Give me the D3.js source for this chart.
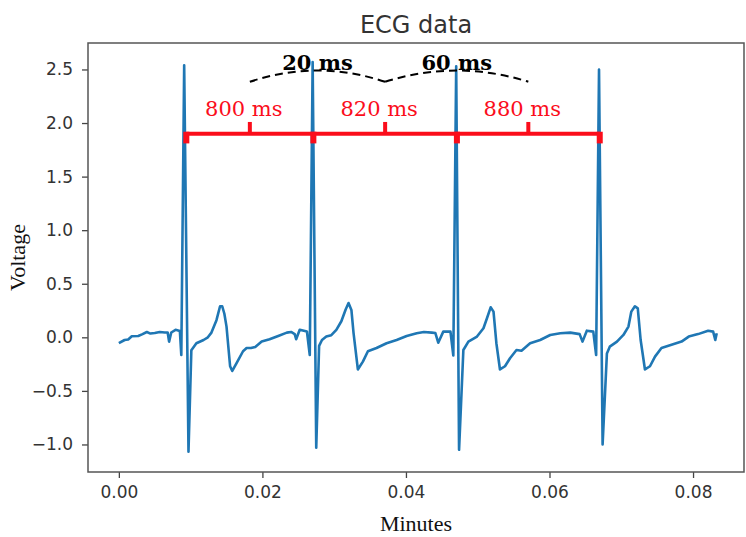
<!DOCTYPE html>
<html>
<head>
<meta charset="utf-8">
<script src="https://cdn.jsdelivr.net/npm/d3@7"></script>
<style>
  body { margin: 0; background: #fff; }
</style>
</head>
<body>
<div id="chart"></div>
<script>
// ECG trace: time (minutes) and voltage
const minutes = [
  0.0000, 0.0008, 0.0013, 0.0018, 0.0027, 0.0033, 0.0039, 0.0044, 0.0050, 0.0057,
  0.0064, 0.0068, 0.0070, 0.0073, 0.0079, 0.0085, 0.0087, 0.0091, 0.0097, 0.0101,
  0.0108, 0.0118, 0.0124, 0.0129, 0.0136, 0.0141, 0.0144, 0.0147, 0.0150, 0.0155,
  0.0158, 0.0164, 0.0173, 0.0178, 0.0184, 0.0190, 0.0199, 0.0210, 0.0222, 0.0234,
  0.0240, 0.0245, 0.0247, 0.0252, 0.0262, 0.0266, 0.0270, 0.0275, 0.0279, 0.0283,
  0.0289, 0.0296, 0.0303, 0.0310, 0.0316, 0.0320, 0.0324, 0.0327, 0.0333, 0.0340,
  0.0347, 0.0359, 0.0373, 0.0387, 0.0401, 0.0415, 0.0425, 0.0436, 0.0441, 0.0445,
  0.0452, 0.0462, 0.0466, 0.0470, 0.0474, 0.0480, 0.0487, 0.0499, 0.0508, 0.0513,
  0.0518, 0.0522, 0.0526, 0.0531, 0.0538, 0.0545, 0.0554, 0.0561, 0.0573, 0.0587,
  0.0601, 0.0615, 0.0629, 0.0642, 0.0646, 0.0652, 0.0661, 0.0665, 0.0669, 0.0674,
  0.0680, 0.0684, 0.0694, 0.0703, 0.0710, 0.0714, 0.0719, 0.0723, 0.0727, 0.0733,
  0.0740, 0.0747, 0.0756, 0.0770, 0.0784, 0.0794, 0.0807, 0.0821, 0.0828, 0.0831,
  0.0833
];
const voltage = [
  -0.055, -0.025, -0.020, 0.010, 0.013, 0.030, 0.050, 0.035, 0.040, 0.050,
  0.045, 0.045, -0.040, 0.045, 0.070, 0.060, -0.165, 2.540, -1.067, -0.120,
  -0.055, -0.025, 0.000, 0.044, 0.160, 0.290, 0.290, 0.220, 0.100, -0.270,
  -0.314, -0.240, -0.130, -0.100, -0.100, -0.090, -0.040, -0.018, 0.013, 0.044,
  0.050, 0.030, -0.018, 0.070, 0.055, -0.165, 2.570, -1.030, -0.080, -0.025,
  0.007, 0.020, 0.070, 0.150, 0.260, 0.320, 0.256, 0.040, -0.300, -0.227,
  -0.130, -0.100, -0.055, -0.025, 0.013, 0.038, 0.050, 0.044, 0.040, -0.050,
  0.053, 0.053, -0.170, 2.530, -1.050, -0.118, -0.040, 0.007, 0.085, 0.180,
  0.280, 0.240, -0.055, -0.300, -0.270, -0.195, -0.118, -0.125, -0.055, -0.025,
  0.022, 0.038, 0.044, 0.030, -0.040, 0.062, 0.053, -0.165, 2.500, -1.000,
  -0.150, -0.087, -0.040, 0.022, 0.100, 0.240, 0.290, 0.270, -0.025, -0.300,
  -0.270, -0.180, -0.100, -0.070, -0.040, 0.007, 0.030, 0.062, 0.053, -0.025,
  0.038
];

// R-peak times used for the interval annotations
const beatTimes = [0.0094, 0.0271, 0.0471, 0.0670];
const intervalLabels = ['800 ms', '820 ms', '880 ms'];
const diffLabels = ['20 ms', '60 ms'];

// axis ticks
const xTicks = [0.00, 0.02, 0.04, 0.06, 0.08];
const yTicks = [-1.0, -0.5, 0.0, 0.5, 1.0, 1.5, 2.0, 2.5];

const width = 746, height = 537;
const margin = { top: 43, right: 2, bottom: 65, left: 88 };

const svg = d3.select('#chart').append('svg')
  .attr('width', width)
  .attr('height', height);

const x = d3.scaleLinear()
  .domain([-0.0043, 0.0871])
  .range([margin.left, width - margin.right]);

const y = d3.scaleLinear()
  .domain([-1.257, 2.747])
  .range([height - margin.bottom, margin.top]);

const fmtMinus = f => v => f(v).replace('-', '\u2212');

// Axes
const xAxis = svg.append('g')
  .attr('transform', `translate(0,${height - margin.bottom})`)
  .call(d3.axisBottom(x).tickValues(xTicks).tickFormat(d3.format('.2f')).tickSize(6).tickPadding(8));

const yAxis = svg.append('g')
  .attr('transform', `translate(${margin.left},0)`)
  .call(d3.axisLeft(y).tickValues(yTicks).tickFormat(fmtMinus(d3.format('.1f'))).tickSize(6).tickPadding(9));

[xAxis, yAxis].forEach(a => {
  a.select('.domain').remove();
  a.selectAll('line').attr('stroke', '#444').attr('stroke-width', 1.3);
  a.selectAll('text')
    .attr('fill', '#333')
    .style('font-family', '"DejaVu Sans", sans-serif')
    .style('font-size', '17px');
});

// ECG line
const line = d3.line()
  .x((d, i) => x(minutes[i]))
  .y(d => y(d));

svg.append('path')
  .datum(voltage)
  .attr('fill', 'none')
  .attr('stroke', '#1f77b4')
  .attr('stroke-width', 2.6)
  .attr('stroke-linejoin', 'round')
  .attr('d', line);

// Plot frame
svg.append('rect')
  .attr('x', margin.left)
  .attr('y', margin.top)
  .attr('width', width - margin.left - margin.right)
  .attr('height', height - margin.top - margin.bottom)
  .attr('fill', 'none')
  .attr('stroke', '#555')
  .attr('stroke-width', 1.5);

// Red interval bracket
const red = '#fb0d1b';
const bracketV = 1.9;
const ann = svg.append('g');

ann.append('line')
  .attr('x1', x(beatTimes[0])).attr('x2', x(beatTimes[beatTimes.length - 1]))
  .attr('y1', y(bracketV)).attr('y2', y(bracketV))
  .attr('stroke', red).attr('stroke-width', 4);

ann.selectAll('.cap')
  .data(beatTimes)
  .join('rect')
  .attr('class', 'cap')
  .attr('x', d => x(d) - 3)
  .attr('y', y(bracketV) - 2)
  .attr('width', 6)
  .attr('height', y(1.81) - y(bracketV) + 2)
  .attr('fill', red);

const mids = d3.pairs(beatTimes).map(([a, b]) => (a + b) / 2);

ann.selectAll('.midtick')
  .data(mids)
  .join('rect')
  .attr('class', 'midtick')
  .attr('x', d => x(d) - 2)
  .attr('y', y(2.01))
  .attr('width', 4)
  .attr('height', y(bracketV) - y(2.01))
  .attr('fill', red);

ann.selectAll('.ivl')
  .data(intervalLabels)
  .join('text')
  .attr('class', 'ivl')
  .attr('x', (d, i) => x(mids[i]) - 6)
  .attr('y', y(2.07))
  .attr('text-anchor', 'middle')
  .attr('fill', red)
  .style('font-family', '"DejaVu Serif", serif')
  .style('font-size', '21px')
  .text(d => d);

// Dashed arcs between interval midpoints
const arcEnd = 2.385, arcCtrl = 2.595;
ann.selectAll('.arc')
  .data(d3.pairs(mids))
  .join('path')
  .attr('class', 'arc')
  .attr('fill', 'none')
  .attr('stroke', '#000')
  .attr('stroke-width', 2)
  .attr('stroke-dasharray', '8,5')
  .attr('d', ([a, b]) => {
    const p = d3.path();
    p.moveTo(x(a), y(arcEnd));
    p.quadraticCurveTo(x((a + b) / 2), y(arcCtrl), x(b), y(arcEnd));
    return p.toString();
  });

ann.selectAll('.diff')
  .data(diffLabels)
  .join('text')
  .attr('class', 'diff')
  .attr('x', (d, i) => x((mids[i] + mids[i + 1]) / 2))
  .attr('y', y(2.497))
  .attr('text-anchor', 'middle')
  .attr('fill', '#000')
  .style('font-family', '"DejaVu Serif", serif')
  .style('font-weight', 'bold')
  .style('font-size', '21px')
  .text(d => d);

// Title and axis labels
svg.append('text')
  .attr('x', (margin.left + width - margin.right) / 2)
  .attr('y', 33)
  .attr('text-anchor', 'middle')
  .attr('fill', '#333')
  .style('font-family', '"DejaVu Sans", sans-serif')
  .style('font-size', '24px')
  .text('ECG data');

svg.append('text')
  .attr('x', (margin.left + width - margin.right) / 2)
  .attr('y', 531)
  .attr('text-anchor', 'middle')
  .attr('fill', '#111')
  .style('font-family', '"Liberation Serif", serif')
  .style('font-size', '22px')
  .text('Minutes');

svg.append('text')
  .attr('transform', `translate(25,${(margin.top + height - margin.bottom) / 2}) rotate(-90)`)
  .attr('text-anchor', 'middle')
  .attr('fill', '#111')
  .style('font-family', '"Liberation Serif", serif')
  .style('font-size', '22px')
  .text('Voltage');
</script>
</body>
</html>
